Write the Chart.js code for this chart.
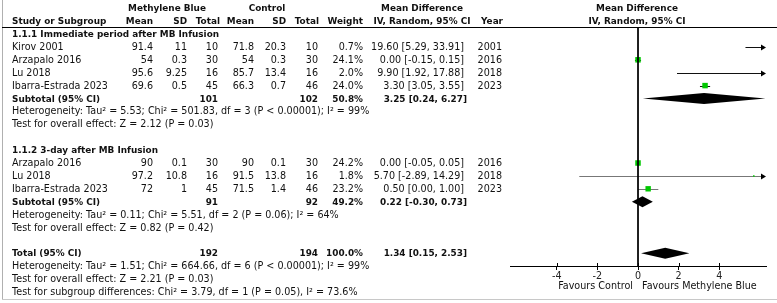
<!DOCTYPE html>
<html><head><meta charset="utf-8">
<script src="https://cdn.jsdelivr.net/npm/chart.js@4/dist/chart.umd.min.js"></script>
<style>
html,body{margin:0;padding:0;background:#fff;}
#wrap{position:relative;width:777px;height:303px;overflow:hidden;background:#fff;}
#c{position:absolute;left:0;top:0;}
.t{position:absolute;white-space:nowrap;font-family:"DejaVu Sans";font-size:9.6px;line-height:1;color:#111;transform:translateY(-50%);}
.b{font-weight:bold;font-size:8.9px;}
.ln{position:absolute;}
</style></head><body>
<div id="wrap"><canvas id="c" width="777" height="303"></canvas></div>
<script>
// ---------------- data ----------------
const groupTitles = ['1.1.1 Immediate period after MB Infusion', '1.1.2 3-day after MB Infusion'];
const studyNames = ['Kirov 2001','Arzapalo 2016','Lu 2018','Ibarra-Estrada 2023','Arzapalo 2016','Lu 2018','Ibarra-Estrada 2023'];
const studyGroup = [0,0,0,0,1,1,1];
const mbMean  = ['91.4','54','95.6','69.6','90','97.2','72'];
const mbSD    = ['11','0.3','9.25','0.5','0.1','10.8','1'];
const mbTotal = [10,30,16,45,30,16,45];
const ctlMean = ['71.8','54','85.7','66.3','90','91.5','71.5'];
const ctlSD   = ['20.3','0.3','13.4','0.7','0.1','13.8','1.4'];
const ctlTotal= [10,30,16,46,30,16,46];
const weights = [0.7,24.1,2.0,24.0,24.2,1.8,23.2];
const md      = [19.60,0.00,9.90,3.30,0.00,5.70,0.50];
const ciLow   = [5.29,-0.15,1.92,3.05,-0.05,-2.89,0.00];
const ciHigh  = [33.91,0.15,17.88,3.55,0.05,14.29,1.00];
const years   = [2001,2016,2018,2023,2016,2018,2023];

const subMbTotal  = [101,91];
const subCtlTotal = [102,92];
const subWeight   = [50.8,49.2];
const subMD   = [3.25,0.22];
const subLow  = [0.24,-0.30];
const subHigh = [6.27,0.73];
const subHet  = ['Heterogeneity: Tau\u00b2 = 5.53; Chi\u00b2 = 501.83, df = 3 (P < 0.00001); I\u00b2 = 99%',
                 'Heterogeneity: Tau\u00b2 = 0.11; Chi\u00b2 = 5.51, df = 2 (P = 0.06); I\u00b2 = 64%'];
const subTest = ['Test for overall effect: Z = 2.12 (P = 0.03)','Test for overall effect: Z = 0.82 (P = 0.42)'];

const totMb = 192, totCtl = 194, totWeight = 100.0;
const totMD = 1.34, totLow = 0.15, totHigh = 2.53;
const totLines = ['Heterogeneity: Tau\u00b2 = 1.51; Chi\u00b2 = 664.66, df = 6 (P < 0.00001); I\u00b2 = 99%',
                  'Test for overall effect: Z = 2.21 (P = 0.03)',
                  'Test for subgroup differences: Chi\u00b2 = 3.79, df = 1 (P = 0.05), I\u00b2 = 73.6%'];
const tickValues = [-4,-2,0,2,4];
const axisLabels = ['Favours Control','Favours Methylene Blue'];

// ---------------- layout ----------------
const W = 777;
const rowY = i => 34 + 12.9*(i-2);
const studyRows = [3,4,5,6,12,13,14];
const groupRows = [2,11];
const subRows = [7,15];
const totRow = 19;
const wrap = document.getElementById('wrap');
function put(text,x,y,align,bold){
  const d=document.createElement('div');
  d.className='t'+(bold?' b':'');
  d.textContent=text; d.style.top=y+'px';
  if(align==='left') d.style.left=x+'px';
  else if(align==='right') d.style.right=(W-x)+'px';
  else {d.style.left=x+'px'; d.style.transform='translate(-50%,-50%)';}
  wrap.appendChild(d);
}
function line(x,y,w,h,c){const d=document.createElement('div');d.className='ln';d.style.cssText+=`left:${x}px;top:${y}px;width:${w}px;height:${h}px;background:${c}`;wrap.appendChild(d);}
line(2,0,1,300,'#b0b0b0');
line(2,299,775,1,'#c8c8c8');
line(2,27,775,1,'#000');

const fmt = v => v.toFixed(2);
const col = {name:12, mbMean:153, mbSD:187, mbTot:218, cMean:254, cSD:286, cTot:318, wt:363, md:464, mdB:467, yr:502};
// headers
put('Methylene Blue',167,7.5,'center',true);
put('Control',267,7.5,'center',true);
put('Mean Difference',422,7.5,'center',true);
put('Mean Difference',637,7.5,'center',true);
put('Study or Subgroup',col.name,21,'left',true);
put('Mean',col.mbMean,21,'right',true);
put('SD',col.mbSD,21,'right',true);
put('Total',col.mbTot+2,21,'right',true);
put('Mean',col.cMean,21,'right',true);
put('SD',col.cSD,21,'right',true);
put('Total',col.cTot+1,21,'right',true);
put('Weight',col.wt,21,'right',true);
put('IV, Random, 95% CI',422,21,'center',true);
put('Year',col.yr+1,21,'right',true);
put('IV, Random, 95% CI',637,21,'center',true);

groupRows.forEach((r,g)=>put(groupTitles[g],col.name,rowY(r),'left',true));
studyNames.forEach((n,i)=>{
  const y=rowY(studyRows[i]);
  put(n,col.name,y,'left');
  put(mbMean[i],col.mbMean,y,'right');
  put(mbSD[i],col.mbSD,y,'right');
  put(String(mbTotal[i]),col.mbTot,y,'right');
  put(ctlMean[i],col.cMean,y,'right');
  put(ctlSD[i],col.cSD,y,'right');
  put(String(ctlTotal[i]),col.cTot,y,'right');
  put(weights[i].toFixed(1)+'%',col.wt,y,'right');
  put(fmt(md[i])+' ['+fmt(ciLow[i])+', '+fmt(ciHigh[i])+']',col.md,y,'right');
  put(String(years[i]),col.yr,y,'right');
});
subRows.forEach((r,g)=>{
  const y=rowY(r);
  put('Subtotal (95% CI)',col.name,y,'left',true);
  put(String(subMbTotal[g]),col.mbTot,y,'right',true);
  put(String(subCtlTotal[g]),col.cTot,y,'right',true);
  put(subWeight[g].toFixed(1)+'%',col.wt,y,'right',true);
  put(fmt(subMD[g])+' ['+fmt(subLow[g])+', '+fmt(subHigh[g])+']',col.mdB,y,'right',true);
  put(subHet[g],col.name,rowY(r+1),'left');
  put(subTest[g],col.name,rowY(r+2),'left');
});
put('Total (95% CI)',col.name,rowY(totRow),'left',true);
put(String(totMb),col.mbTot,rowY(totRow),'right',true);
put(String(totCtl),col.cTot,rowY(totRow),'right',true);
put(totWeight.toFixed(1)+'%',col.wt,rowY(totRow),'right',true);
put(fmt(totMD)+' ['+fmt(totLow)+', '+fmt(totHigh)+']',col.mdB,rowY(totRow),'right',true);
totLines.forEach((t,k)=>put(t,col.name,rowY(totRow+1+k),'left'));
put(axisLabels[0],633,286,'right');
put(axisLabels[1],642,286,'left');

// ---------------- chart ----------------
const yMin = 2 - (34-27)/12.9, yMax = 2 + (266-34)/12.9;
const studyPts = md.map((v,i)=>({x:v,y:studyRows[i]}));
const pointSizes = weights.map(w=>1.12*Math.sqrt(w)/1.414);

const forestPlugin = {
  id:'forest',
  beforeDatasetsDraw(chart){
    const {ctx, scales:{x,y}} = chart;
    ctx.save();
    md.forEach((v,i)=>{
      const yy = Math.round(y.getPixelForValue(studyRows[i]))+0.5;
      const lo = Math.max(ciLow[i], x.min), hi = Math.min(ciHigh[i], x.max);
      const x1 = x.getPixelForValue(lo), x2 = x.getPixelForValue(hi);
      ctx.strokeStyle = studyGroup[i]===0 ? '#111' : '#777';
      ctx.lineWidth = 1;
      ctx.beginPath(); ctx.moveTo(x1,yy); ctx.lineTo(ciHigh[i]>x.max? x2-4 : x2,yy); ctx.stroke();
      if(ciHigh[i]>x.max){
        ctx.fillStyle='#000';
        ctx.beginPath(); ctx.moveTo(x2,yy); ctx.lineTo(x2-5,yy-3); ctx.lineTo(x2-5,yy+3); ctx.closePath(); ctx.fill();
      }
    });
    const dm = subMD.concat([totMD]), dl = subLow.concat([totLow]), dh = subHigh.concat([totHigh]);
    const dr = subRows.concat([totRow]);
    ctx.fillStyle='#000';
    dm.forEach((v,k)=>{
      const yy = y.getPixelForValue(dr[k]);
      ctx.beginPath();
      ctx.moveTo(x.getPixelForValue(dl[k]),yy);
      ctx.lineTo(x.getPixelForValue(v),yy-5.5);
      ctx.lineTo(x.getPixelForValue(dh[k]),yy);
      ctx.lineTo(x.getPixelForValue(v),yy+5.5);
      ctx.closePath(); ctx.fill();
    });
    ctx.restore();
  },
  afterDraw(chart){
    const {ctx, scales:{x}, chartArea:a} = chart;
    ctx.save(); ctx.strokeStyle='#000'; ctx.lineWidth=1;
    tickValues.forEach(t=>{
      const px = Math.round(x.getPixelForValue(t))+0.5;
      ctx.beginPath(); ctx.moveTo(px,a.bottom-3); ctx.lineTo(px,a.bottom); ctx.stroke();
    });
    ctx.restore();
  }
};

new Chart(document.getElementById('c'),{
  type:'scatter',
  data:{datasets:[
    {type:'line',data:[{x:0,y:yMin},{x:0,y:yMax}],borderColor:'#000',borderWidth:1,pointRadius:0,clip:false},
    {type:'scatter',data:studyPts,pointStyle:'rect',pointRadius:pointSizes,backgroundColor:'#00c800',borderWidth:0,pointHoverRadius:pointSizes}
  ]},
  options:{
    responsive:false,animation:false,devicePixelRatio:1,
    layout:{padding:{left:510,right:11,top:27,bottom:0}},
    plugins:{legend:{display:false},tooltip:{enabled:false}},
    scales:{
      x:{type:'linear',min:-6.3,max:6.3,position:'bottom',
        afterBuildTicks:s=>{s.ticks=tickValues.map(v=>({value:v}));},
        afterFit:s=>{s.height=37;},
        grid:{display:true,drawOnChartArea:false,drawTicks:true,tickLength:4,color:'#000'},
        border:{display:true,color:'#000',width:1},
        ticks:{color:'#222',padding:1,font:{family:'DejaVu Sans',size:9.6},autoSkip:false,maxRotation:0}
      },
      y:{type:'linear',min:yMin,max:yMax,reverse:true,display:false}
    }
  },
  plugins:[forestPlugin]
});
</script>
</body></html>
